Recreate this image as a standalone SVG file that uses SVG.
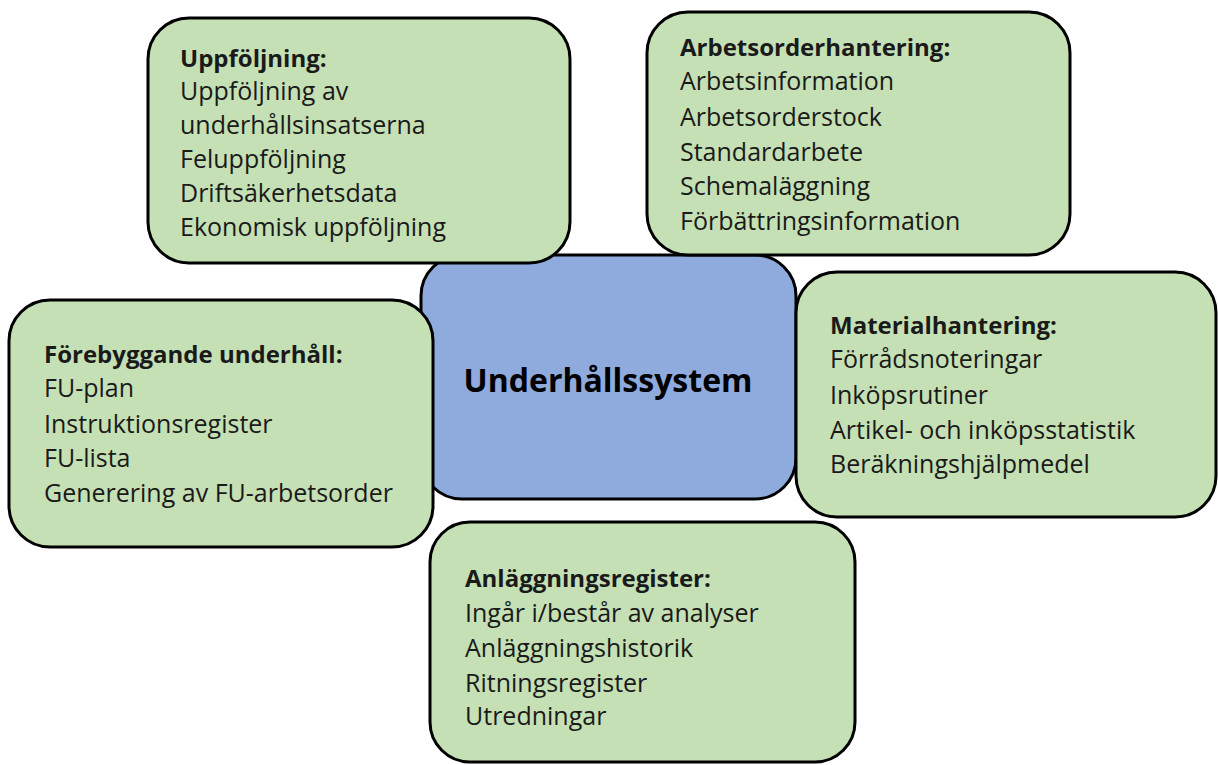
<svg xmlns="http://www.w3.org/2000/svg" width="1218" height="765" viewBox="0 0 1218 765">
<style>
.box{fill:#C5E0B4;stroke:#000;stroke-width:3}
.core{fill:#8FAADC;stroke:#000;stroke-width:3}
text{font-family:"Open Sans","Liberation Sans",sans-serif;fill:#1a1a1a;font-size:25px}
.h{font-weight:bold;font-size:24px}
.t{font-size:32px;font-weight:bold;fill:#000}
</style>
<rect width="1218" height="765" fill="#fff"/>
<g id="connectors"/>
<g id="node-core">
<rect class="core" x="421" y="255" width="375" height="244" rx="41"/>
<text class="t" x="608" y="392" text-anchor="middle">Underhållssystem</text>
</g>
<g id="node-uppfoljning">
<rect class="box" x="148" y="18" width="422" height="245" rx="41"/>
<text x="180" y="67" class="h">Uppföljning:</text>
<text x="180" y="100">Uppföljning av</text>
<text x="180" y="134">underhållsinsatserna</text>
<text x="180" y="168">Feluppföljning</text>
<text x="180" y="202">Driftsäkerhetsdata</text>
<text x="180" y="236">Ekonomisk uppföljning</text>
</g>
<g id="node-arbetsorder">
<rect class="box" x="647" y="12" width="423" height="243" rx="41"/>
<text x="680" y="56" class="h">Arbetsorderhantering:</text>
<text x="680" y="90">Arbetsinformation</text>
<text x="680" y="126">Arbetsorderstock</text>
<text x="680" y="161">Standardarbete</text>
<text x="680" y="195">Schemaläggning</text>
<text x="680" y="230">Förbättringsinformation</text>
</g>
<g id="node-forebyggande">
<rect class="box" x="9" y="300" width="424" height="247" rx="41"/>
<text x="44" y="363" class="h">Förebyggande underhåll:</text>
<text x="44" y="397">FU-plan</text>
<text x="44" y="433">Instruktionsregister</text>
<text x="44" y="467">FU-lista</text>
<text x="44" y="502">Generering av FU-arbetsorder</text>
</g>
<g id="node-material">
<rect class="box" x="796" y="272" width="420" height="245" rx="41"/>
<text x="830" y="334" class="h">Materialhantering:</text>
<text x="830" y="368">Förrådsnoteringar</text>
<text x="830" y="404">Inköpsrutiner</text>
<text x="830" y="439">Artikel- och inköpsstatistik</text>
<text x="830" y="473">Beräkningshjälpmedel</text>
</g>
<g id="node-anlaggning">
<rect class="box" x="430" y="522" width="425" height="240" rx="40"/>
<text x="465" y="587" class="h">Anläggningsregister:</text>
<text x="465" y="622">Ingår i/består av analyser</text>
<text x="465" y="657">Anläggningshistorik</text>
<text x="465" y="692">Ritningsregister</text>
<text x="465" y="725">Utredningar</text>
</g>
</svg>
